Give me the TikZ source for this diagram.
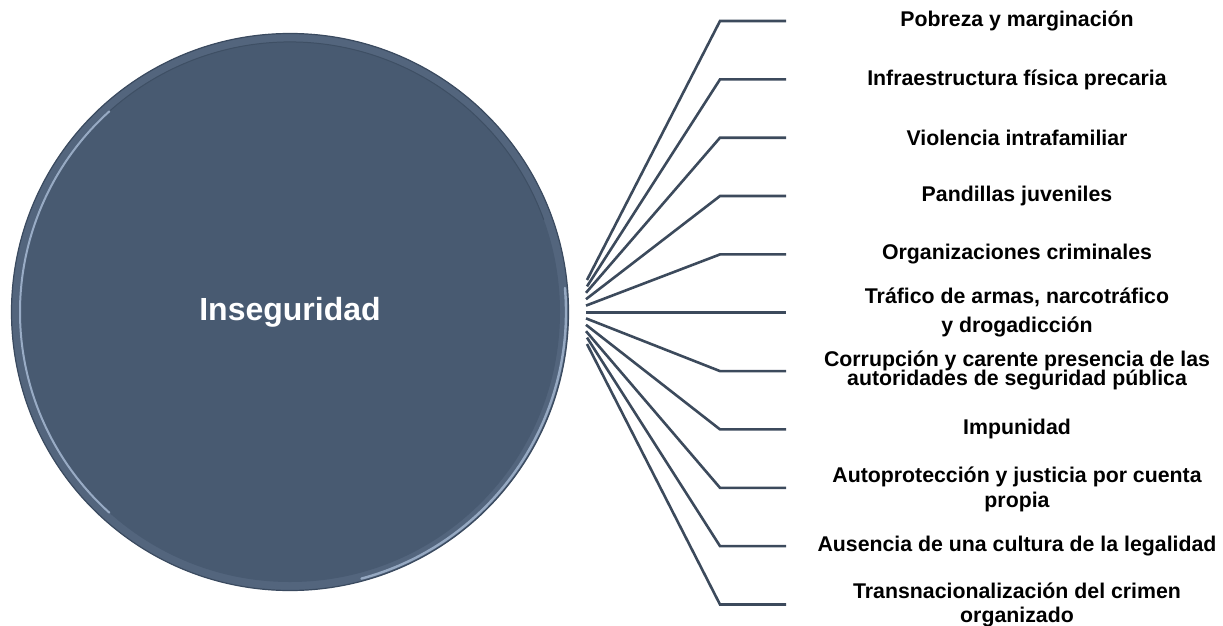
\documentclass[tikz,border=0pt]{standalone}
\usepackage{fontspec}
\setmainfont{Liberation Sans}
\usepackage{xcolor}
\usetikzlibrary{positioning}
\definecolor{pizarra}{HTML}{485A71}
\definecolor{aro}{HTML}{53657D}
\definecolor{borde}{HTML}{3A4A5F}
\definecolor{brillo}{HTML}{A7BAD4}
\definecolor{linea}{HTML}{3C4A5C}

\begin{document}
\begin{tikzpicture}[x=1pt,y=-1pt,
    rama/.style={draw=linea, line width=2.6pt},
    causa/.style={font=\bfseries\fontsize{21.3}{24}\selectfont, align=center,
        anchor=center, inner sep=0pt},
    centro/.style={circle, fill=aro, draw=borde, line width=1.2pt,
        minimum size=557pt, inner sep=0pt, text=white,
        font=\bfseries\fontsize{32}{36}\selectfont}]
    \useasboundingbox (0,0) rectangle (1223,626);

    \node[centro] (ins) at (290,312) {};
    % bevel
    \fill[pizarra] (290,312) circle[radius=270];
    \draw[borde!70!pizarra, line width=1pt] (290,312) ++(-20:270) arc[start angle=-20, end angle=-160, radius=270];
    \draw[brillo, line width=2pt, line cap=round, opacity=.85] (290,312) ++(132:270) arc[start angle=132, end angle=228, radius=270];
    \draw[brillo, line width=2.4pt, line cap=round, opacity=.8] (290,312) ++(-5:276) arc[start angle=-5, end angle=75, radius=276];
    \node[text=white, font=\bfseries\fontsize{32}{36}\selectfont] (titulo) at (ins.center) {Inseguridad};

    % fan
    \coordinate (o1) at (587,280);
    \coordinate (o2) at (587,286.4);
    \coordinate (o3) at (586,292.8);
    \coordinate (o4) at (586,299.2);
    \coordinate (o5) at (586,305.6);
    \coordinate (o6) at (586,312.6);
    \coordinate (o7) at (586,318.4);
    \coordinate (o8) at (586,324.8);
    \coordinate (o9) at (586,331.2);
    \coordinate (o10) at (587,337.6);
    \coordinate (o11) at (587,344);

    \node[causa] (pobreza) at (1017,21) {Pobreza y marginación};
    \node[causa] (infra) at (1017,80) {Infraestructura física precaria};
    \node[causa] (violencia) at (1017,138) {Violencia intrafamiliar};
    \node[causa] (pandillas) at (1017,196) {Pandillas juveniles};
    \node[causa] (organiz) at (1017,254) {Organizaciones criminales};
    \node[causa] (trafico) at (1017,312) {Tráfico de armas, narcotráfico\\[5pt] y drogadicción};
    \node[causa] (corrup) at (1017,370) {Corrupción y carente presencia de las\\[-5pt] autoridades de seguridad pública};
    \node[causa] (impun) at (1017,429) {Impunidad};
    \node[causa] (autop) at (1017,489) {Autoprotección y justicia por cuenta\\[1pt] propia};
    \node[causa] (ausencia) at (1017,546) {Ausencia de una cultura de la legalidad};
    \node[causa] (transn) at (1017,605) {Transnacionalización del crimen\\[0pt] organizado};

    \draw[rama] (o1) -- (720,21) -- (786,21) coordinate (e1);
    \draw[rama] (o2) -- (720,79.4) -- (786,79.4) coordinate (e2);
    \draw[rama] (o3) -- (720,137.7) -- (786,137.7) coordinate (e3);
    \draw[rama] (o4) -- (720,196) -- (786,196) coordinate (e4);
    \draw[rama] (o5) -- (720,254.4) -- (786,254.4) coordinate (e5);
    \draw[rama] (o6) -- (720,312.6) -- (786,312.6) coordinate (e6);
    \draw[rama] (o7) -- (720,371.1) -- (786,371.1) coordinate (e7);
    \draw[rama] (o8) -- (720,429.4) -- (786,429.4) coordinate (e8);
    \draw[rama] (o9) -- (720,487.8) -- (786,487.8) coordinate (e9);
    \draw[rama] (o10) -- (720,546.1) -- (786,546.1) coordinate (e10);
    \draw[rama] (o11) -- (720,604.5) -- (786,604.5) coordinate (e11);
\end{tikzpicture}
\end{document}
